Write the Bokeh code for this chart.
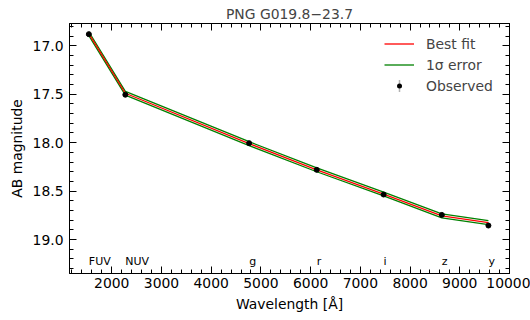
import numpy as np
from bokeh.plotting import figure
from bokeh.models import (Range1d, LinearAxis, SingleIntervalTicker, PrintfTickFormatter,
                          CustomJSTickFormatter, Legend, LegendItem, ColumnDataSource,
                          PolyAnnotation, BoxAnnotation)
from bokeh.core.properties import value
from bokeh.embed import file_html
from bokeh.resources import INLINE

# ---- data ----
bands = ["FUV", "NUV", "g", "r", "i", "z", "y"]
wavelength = [1539, 2273, 4763, 6123, 7468, 8639, 9576]
observed = [16.88, 17.505, 18.005, 18.28, 18.535, 18.745, 18.855]
observed_err = [0.02, 0.015, 0.01, 0.01, 0.01, 0.01, 0.022]
best_fit = [16.875, 17.49, 18.01, 18.28, 18.53, 18.755, 18.825]
fit_bright = [16.855, 17.47, 17.99, 18.26, 18.51, 18.735, 18.805]
fit_faint = [16.895, 17.51, 18.03, 18.30, 18.55, 18.775, 18.845]

FONT = "DejaVu Sans"
FS = "13.9px"

p = figure(width=530, height=320, x_range=Range1d(1150, 10000), y_range=Range1d(19.35, 16.77),
           output_backend="svg", toolbar_location=None,
           min_border_left=69, min_border_right=21, min_border_top=23, min_border_bottom=47,
           title="PNG G019.8\u221223.7")
p.background_fill_color = "white"
p.border_fill_color = "white"
p.xgrid.visible = False
p.ygrid.visible = False
p.outline_line_color = "black"
p.outline_line_width = 1

p.title.text_font = FONT
p.title.text_font_size = FS
p.title.text_font_style = "normal"
p.title.align = "center"
p.title.standoff = 4

xt = SingleIntervalTicker(interval=1000, num_minor_ticks=5)
yt = SingleIntervalTicker(interval=0.5, num_minor_ticks=5)
blank = CustomJSTickFormatter(code="return ''")

def style_axis(ax):
    ax.major_tick_in = 7
    ax.major_tick_out = 0
    ax.minor_tick_in = 4
    ax.minor_tick_out = 0
    ax.axis_line_color = "black"
    ax.major_tick_line_color = "black"
    ax.minor_tick_line_color = "black"
    ax.major_label_text_font = FONT
    ax.major_label_text_font_size = FS
    ax.major_label_text_color = "black"
    ax.axis_label_text_font = FONT
    ax.axis_label_text_font_size = FS
    ax.axis_label_text_font_style = "normal"
    ax.axis_label_text_color = "black"

xa = p.xaxis[0]
xa.ticker = xt
xa.axis_label = "Wavelength [\u00c5]"
style_axis(xa)
xa.major_label_standoff = 4
xa.axis_label_standoff = 5

ya = p.yaxis[0]
ya.ticker = yt
ya.formatter = PrintfTickFormatter(format="%.1f")
ya.axis_label = "AB magnitude"
style_axis(ya)
ya.major_label_standoff = 6
ya.axis_label_standoff = 5

top = LinearAxis(ticker=xt, formatter=blank)
style_axis(top)
top.major_label_standoff = 0
p.add_layout(top, "above")
right = LinearAxis(ticker=yt, formatter=blank)
style_axis(right)
right.major_label_standoff = 0
p.add_layout(right, "right")

src = ColumnDataSource(dict(wl=wavelength, band=bands, obs=observed,
                            lo=[o - e for o, e in zip(observed, observed_err)],
                            hi=[o + e for o, e in zip(observed, observed_err)],
                            fit=best_fit, fb=fit_bright, ff=fit_faint))

r_hi = p.line("wl", "fb", source=src, line_color="green", line_width=1.3)
p.line("wl", "ff", source=src, line_color="green", line_width=1.3)
r_fit = p.line("wl", "fit", source=src, line_color="red", line_width=1.3)
p.segment(x0="wl", y0="lo", x1="wl", y1="hi", source=src, line_color="black", line_width=1.5)
r_obs = p.scatter("wl", "obs", source=src, size=5, fill_color="black", line_color="black")

p.text(x="wl", y=19.23, text="band", source=src, text_font=value(FONT), text_font_size="11px",
       text_align="left", text_baseline="alphabetic", text_color="black")

# legend marker for "Observed" (small dot; error-bar sample drawn as overlay below)
r_obs_leg = p.scatter(x=[], y=[], marker="dot", line_color="black")

LEG_X, LEG_Y, PAD, ROW = 310, 172, 5, 21
legend = Legend(items=[LegendItem(label="Best fit", renderers=[r_fit]),
                       LegendItem(label="1\u03c3 error", renderers=[r_hi]),
                       LegendItem(label="Observed", renderers=[r_obs_leg])],
                location=(LEG_X, LEG_Y), glyph_width=30, glyph_height=ROW, label_height=ROW,
                spacing=0, padding=PAD, margin=0, label_standoff=12,
                label_text_font=FONT, label_text_font_size=FS,
                border_line_alpha=0, background_fill_alpha=0)
p.add_layout(legend)

# error-bar sample inside the legend (frame screen units, y measured from the frame bottom)
gx = LEG_X + PAD + 15
gy = LEG_Y + PAD + ROW / 2
p.add_layout(PolyAnnotation(xs=[gx, gx], ys=[gy - 6, gy + 6], xs_units="screen", ys_units="screen",
                            line_color="black", line_width=1.5, fill_alpha=0))
p.add_layout(BoxAnnotation(left=gx - 2.5, right=gx + 2.5, bottom=gy - 2.5, top=gy + 2.5,
                           left_units="screen", right_units="screen",
                           bottom_units="screen", top_units="screen",
                           border_radius=3, fill_color="black", fill_alpha=1, line_alpha=0))

open("out.html", "w").write(file_html(p, INLINE))
